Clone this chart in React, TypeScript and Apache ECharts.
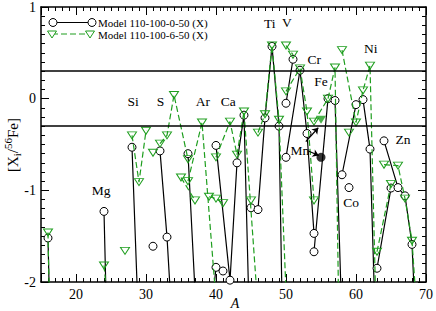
import React, { useEffect, useRef } from "react";
import * as echarts from "echarts";

const FONT = '"Liberation Serif", "Times New Roman", Times, serif';
const GREEN = "#1e9e1e";

// elements (stable isotopes) and their mass numbers
const ELEMENTS = ["O", "Mg", "Al", "Si", "P", "S", "Cl", "Ar", "K", "Ca", "Sc", "Ti", "V", "Cr", "Fe", "Co", "Ni", "Cu", "Zn"];
const MASSES = [
  [16, 17, 18],
  [24, 25, 26],
  [27],
  [28, 29, 30],
  [31],
  [32, 33, 34, 36],
  [35, 37],
  [36, 38, 40],
  [39, 40, 41],
  [40, 42, 43, 44, 46, 48],
  [45],
  [46, 47, 48, 49, 50],
  [50, 51],
  [50, 52, 53, 54],
  [54, 56, 57, 58],
  [59],
  [58, 60, 61, 62, 64],
  [63, 65],
  [64, 66, 67, 68, 70],
];

// [X_i/56Fe], Model 110-100-0-50 (X)
const MODEL_0_50: (number | null)[][] = [
  [-1.52, -4.9, -5],
  [-1.23, -4.4, -5],
  [null],
  [-0.53, -2.6, -3],
  [-1.61],
  [-0.57, -1.51, -2.8, -4],
  [-4, -4],
  [-0.6, -3.6, -4],
  [-2.6, -1.84, -1.88],
  [-0.51, -1.98, -0.7, -0.18, -6.1, -6],
  [-1.19],
  [-1.21, -0.21, 0.57, -0.3, -4.7],
  [-0.05, 0.43],
  [-0.64, 0.31, -0.38, -1.47],
  [-1.67, 0, -0.02, -2.45],
  [-0.97],
  [-0.83, -0.065, -0.01, -0.55, -5.6],
  [-1.85, -0.975],
  [-0.46, -0.97, -1.06, -1.59, -4.9],
];

// [X_i/56Fe], Model 110-100-6-50 (X)
const MODEL_6_50: (number | null)[][] = [
  [-1.46, -5.3, -5],
  [-1.82, -2.6, -3],
  [-1.66],
  [-0.4, -0.91, -0.35],
  [-0.59],
  [-0.49, -0.4, 0.04, -0.66],
  [-0.86, -1.11],
  [-0.9, -0.26, -2.2],
  [-1.07, -1.09, -1.14],
  [-0.64, -0.25, -0.61, -0.14, -2.3, -3],
  [-1.11],
  [-0.37, -0.17, 0.58, -0.23, -2.1],
  [0.58, 0.48],
  [0.08, 0.33, -0.14, -1.11],
  [-0.25, 0, 0.34, -4.6],
  [-0.37],
  [0.53, -0.26, 0.09, 0.36, -5.9],
  [-1.67, -0.93],
  [-0.72, -0.73, -1.09, -1.55, -3.8],
];

// Mn-55 (highlighted, filled markers)
const MN_A = 55;
const MN_0_50 = -0.64;
const MN_6_50 = -0.23;

// reference lines
const REF_LINES = [0.3, -0.3];

// element labels (text, anchor in data coords)
const LABEL_TEXT = ["Mg", "Si", "S", "Ar", "Ca", "Ti", "V", "Cr", "Mn", "Fe", "Co", "Ni", "Zn"];
const LABEL_A = [23.6, 28.15, 32.07, 38.13, 41.76, 47.67, 50.12, 54.04, 51.98, 55.0, 59.3, 62.12, 66.72];
const LABEL_V = [-1.0, -0.03, -0.03, -0.03, -0.03, 0.82, 0.83, 0.43, -0.56, 0.19, -1.13, 0.55, -0.45];

// Mn arrows (from, to) in data coords
const ARROWS = [
  [[52.83, -0.468], [54.61, -0.317]],
  [[53.19, -0.571], [54.68, -0.62]],
];

const LEGEND = ["Model 110-100-0-50 (X)", "Model 110-100-6-50 (X)"];
const X_LABELS = [20, 30, 40, 50, 60, 70];

const TRI_DOWN = "path://M0,0L10,0L5,9Z";

function buildData(values: (number | null)[][]) {
  const out: any[] = [];
  MASSES.forEach((ms, i) => {
    ms.forEach((a, j) => {
      const v = values[i][j];
      if (v !== null && v !== undefined) out.push([a, v]);
    });
    out.push("-");
  });
  return out;
}

const baseX = {
  type: "value" as const,
  min: 15,
  max: 70,
  splitLine: { show: false },
  axisLine: { show: false, onZero: false },
  axisLabel: { show: false },
};
const baseY = {
  type: "value" as const,
  min: -2,
  max: 1,
  interval: 1,
  splitLine: { show: false },
  minorSplitLine: { show: false },
};

const option: any = {
  animation: false,
  backgroundColor: "#fff",
  grid: { left: 41, right: 9, top: 5, bottom: 29, containLabel: false },
  xAxis: [
    {
      ...baseX,
      position: "bottom",
      interval: 1,
      axisLine: { show: true, onZero: false, lineStyle: { color: "#000", width: 1.5 } },
      axisTick: { show: true, inside: true, length: 4, lineStyle: { color: "#000", width: 1 } },
    },
    {
      ...baseX,
      position: "bottom",
      axisTick: { show: true, inside: true, length: 8, lineStyle: { color: "#000", width: 1 } },
      axisLabel: {
        show: true,
        margin: 5,
        color: "#000",
        fontSize: 14,
        fontFamily: FONT,
        formatter: (v: number) => (X_LABELS.indexOf(Math.round(v)) >= 0 && Math.abs(v - Math.round(v)) < 1e-6 ? String(Math.round(v)) : ""),
      },
    },
    {
      ...baseX,
      position: "top",
      interval: 1,
      axisLine: { show: true, onZero: false, lineStyle: { color: "#000", width: 1.5 } },
      axisTick: { show: true, inside: true, length: 4, lineStyle: { color: "#000", width: 1 } },
    },
    {
      ...baseX,
      position: "top",
      axisTick: { show: true, inside: true, length: 8, lineStyle: { color: "#000", width: 1 } },
    },
  ],
  yAxis: [
    {
      ...baseY,
      position: "left",
      axisLine: { show: true, onZero: false, lineStyle: { color: "#000", width: 1.5 } },
      axisTick: { show: true, inside: true, length: 8, lineStyle: { color: "#000", width: 1 } },
      minorTick: { show: true, splitNumber: 10, length: 4, lineStyle: { color: "#000", width: 1 } },
      axisLabel: { show: true, margin: 5, color: "#000", fontSize: 14, fontFamily: FONT },
    },
    {
      ...baseY,
      position: "right",
      axisLine: { show: true, onZero: false, lineStyle: { color: "#000", width: 1.5 } },
      axisTick: { show: true, inside: true, length: 8, lineStyle: { color: "#000", width: 1 } },
      minorTick: { show: true, splitNumber: 10, length: 4, lineStyle: { color: "#000", width: 1 } },
      axisLabel: { show: false },
    },
  ],
  series: [
    {
      name: LEGEND[0],
      type: "line",
      xAxisIndex: 0,
      yAxisIndex: 0,
      data: buildData(MODEL_0_50),
      connectNulls: false,
      clip: true,
      symbol: "circle",
      symbolSize: 8,
      showSymbol: true,
      itemStyle: { color: "#fff", borderColor: "#000", borderWidth: 1 },
      lineStyle: { color: "#000", width: 1.2 },
      emphasis: { disabled: true },
      z: 2,
      markLine: {
        silent: true,
        symbol: ["none", "none"],
        label: { show: false },
        lineStyle: { color: "#000", width: 1.5, type: "solid" },
        data: REF_LINES.map((v) => ({ yAxis: v })),
      },
    },
    {
      name: LEGEND[1],
      type: "line",
      xAxisIndex: 0,
      yAxisIndex: 0,
      data: buildData(MODEL_6_50),
      connectNulls: false,
      clip: true,
      symbol: TRI_DOWN,
      symbolSize: [9, 7],
      showSymbol: true,
      itemStyle: { color: "rgba(0,0,0,0)", borderColor: GREEN, borderWidth: 1 },
      lineStyle: { color: GREEN, width: 1.2, type: [6, 3] },
      emphasis: { disabled: true },
      z: 3,
    },
    {
      type: "scatter",
      data: [[MN_A, MN_0_50]],
      symbol: "circle",
      symbolSize: 9,
      itemStyle: { color: "#000" },
      z: 4,
      markLine: {
        silent: true,
        symbol: ["none", "arrow"],
        symbolSize: 6,
        label: { show: false },
        lineStyle: { color: "#000", width: 1.2, type: "solid" },
        data: ARROWS.map((a) => [{ coord: a[0] }, { coord: a[1] }]),
      },
    },
    {
      type: "scatter",
      data: [[MN_A, MN_6_50]],
      symbol: TRI_DOWN,
      symbolSize: [10, 8],
      itemStyle: { color: GREEN },
      z: 4,
    },
    {
      type: "scatter",
      silent: true,
      data: LABEL_TEXT.map((t, i) => ({ name: t, value: [LABEL_A[i], LABEL_V[i]] })),
      symbolSize: 1,
      itemStyle: { color: "rgba(0,0,0,0)", opacity: 1 },
      label: {
        show: true,
        position: "inside",
        formatter: (p: any) => p.name,
        color: "#000",
        opacity: 1,
        textBorderWidth: 0,
        textBorderColor: "transparent",
        fontSize: 13.5,
        fontFamily: FONT,
      },
      z: 5,
    },
  ],
  graphic: [
    { type: "line", shape: { x1: 53, y1: 22.5, x2: 92, y2: 22.5 }, style: { stroke: "#000", lineWidth: 1.2 }, z: 10 },
    { type: "circle", shape: { cx: 53, cy: 22.5, r: 4 }, style: { fill: "#fff", stroke: "#000", lineWidth: 1 }, z: 11 },
    { type: "circle", shape: { cx: 92, cy: 22.5, r: 4 }, style: { fill: "#fff", stroke: "#000", lineWidth: 1 }, z: 11 },
    {
      type: "text",
      x: 98,
      y: 22.5,
      z: 11,
      style: { text: LEGEND[0], fontSize: 11, fontFamily: FONT, fill: "#000", align: "left", verticalAlign: "middle" },
    },
    { type: "line", shape: { x1: 52, y1: 34, x2: 90, y2: 34 }, style: { stroke: GREEN, lineWidth: 1.2, lineDash: [6, 3] }, z: 10 },
    { type: "polygon", shape: { points: [[47.5, 31], [56.5, 31], [52, 38]] }, style: { fill: "#fff", stroke: GREEN, lineWidth: 1 }, z: 11 },
    { type: "polygon", shape: { points: [[85.5, 31], [94.5, 31], [90, 38]] }, style: { fill: "#fff", stroke: GREEN, lineWidth: 1 }, z: 11 },
    {
      type: "text",
      x: 98,
      y: 34.5,
      z: 11,
      style: { text: LEGEND[1], fontSize: 11, fontFamily: FONT, fill: "#000", align: "left", verticalAlign: "middle" },
    },
    {
      type: "text",
      x: 12.5,
      y: 145,
      rotation: Math.PI / 2,
      z: 11,
      style: {
        text: "{m|[X}{s|i}{m|/}{p|56}{m|Fe]}",
        align: "center",
        verticalAlign: "middle",
        fill: "#000",
        rich: {
          m: { fontSize: 15, fontFamily: FONT, lineHeight: 20, verticalAlign: "middle", fill: "#000" },
          s: { fontSize: 11, fontFamily: FONT, lineHeight: 10, verticalAlign: "bottom", fill: "#000" },
          p: { fontSize: 11, fontFamily: FONT, lineHeight: 10, verticalAlign: "top", fill: "#000" },
        },
      },
    },
    {
      type: "text",
      x: 235,
      y: 303,
      z: 11,
      style: { text: "A", fontSize: 14, fontStyle: "italic", fontFamily: FONT, fill: "#000", align: "center", verticalAlign: "middle" },
    },
  ],
};

export default function App() {
  const ref = useRef<HTMLDivElement>(null);
  useEffect(() => {
    if (!ref.current) return;
    const chart = echarts.init(ref.current, undefined, { renderer: "svg" });
    chart.setOption(option);
    return () => {
      chart.dispose();
    };
  }, []);
  return (
    <div
      ref={ref}
      style={{ position: "absolute", left: 0, top: 0, width: 436, height: 311, background: "#fff" }}
    />
  );
}
